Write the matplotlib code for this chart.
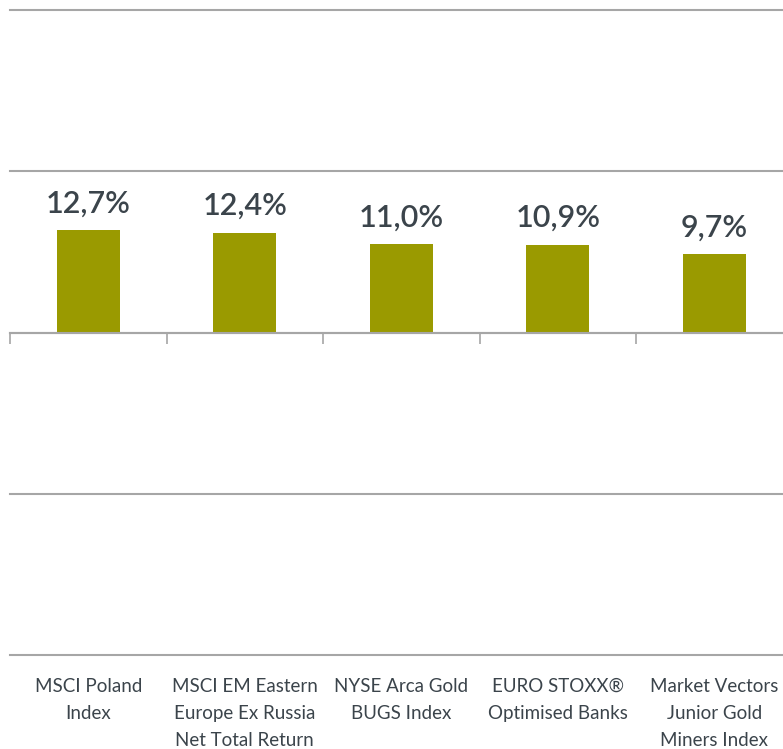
import matplotlib
matplotlib.use("Agg")
import matplotlib.pyplot as plt
from matplotlib.transforms import blended_transform_factory

categories = ["MSCI Poland\nIndex",
              "MSCI EM Eastern\nEurope Ex Russia\nNet Total Return",
              "NYSE Arca Gold\nBUGS Index",
              "EURO STOXX®\nOptimised Banks",
              "Market Vectors\nJunior Gold\nMiners Index"]
values = [12.7, 12.4, 11.0, 10.9, 9.7]
yticks = [-40, -20, 0, 20, 40]

W, H = 783, 749
fig = plt.figure(figsize=(W / 100, H / 100), dpi=100)
left = 10 / W
width = 782.5 / W
bottom = 1 - 655 / H
top = 1 - 10 / H
ax = fig.add_axes([left, bottom, width, top - bottom])

font = ["Lato", "DejaVu Sans"]
bar_color = "#9a9a00"
text_color = "#3b444b"
grid_color = "#a6a6a6"

x = list(range(len(values)))
ax.bar(x, values, width=0.4, color=bar_color, zorder=3)
ax.set_xlim(-0.5, len(values) - 0.5)
ax.set_ylim(-40, 40)
ax.set_yticks(yticks)
ax.yaxis.grid(True, color=grid_color, linewidth=1.5, zorder=0)
for gl in ax.get_ygridlines():
    gl.set_clip_on(False)
ax.tick_params(axis="y", length=0, labelleft=False)

for s in ["top", "right", "left"]:
    ax.spines[s].set_visible(False)
ax.spines["bottom"].set_position(("data", 0))
ax.spines["bottom"].set_color(grid_color)
ax.spines["bottom"].set_linewidth(1.5)
ax.spines["bottom"].set_zorder(4)
ax.set_xticks([i - 0.5 for i in range(len(values))])
ax.set_xticklabels([])
ax.tick_params(axis="x", direction="out", length=8, width=1.2, color=grid_color)

for xi, v in zip(x, values):
    ax.annotate(f"{v:.1f}%".replace(".", ","), (xi, v), xytext=(0, 9),
                textcoords="offset points", ha="center", va="bottom",
                fontsize=22, fontweight="semibold", color=text_color, family=font)

trans = blended_transform_factory(ax.transData, ax.transAxes)
for xi, c in zip(x, categories):
    ax.text(xi, -0.036, c, transform=trans, ha="center", va="top",
            fontsize=13.5, color=text_color, family=font, linespacing=1.72)

fig.savefig("out.png", dpi=100)
